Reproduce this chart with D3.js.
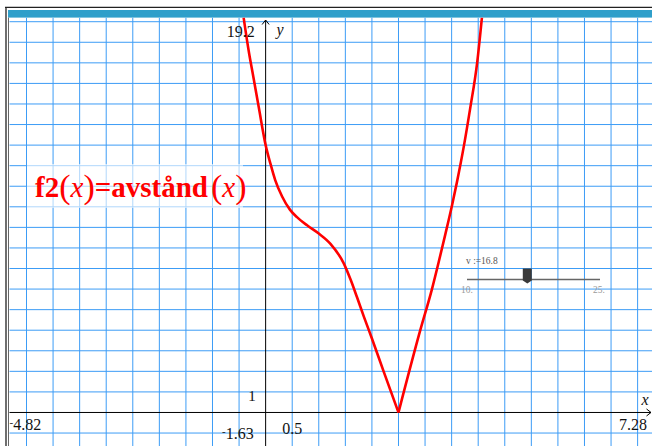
<!DOCTYPE html>
<html><head><meta charset="utf-8">
<script src="https://cdn.jsdelivr.net/npm/d3@7"></script>
<style>html,body{margin:0;padding:0;background:#fff;overflow:hidden}svg{display:block}</style>
</head><body>
<svg id="c" width="652" height="446"></svg>
<script>
// ---- data ----
const xDomain = [-4.82, 7.28];
const yDomain = [-1.63, 19.2];
const xGridStep = 0.5;
const yGridStep = 1;
// left branch of f2(x)=avstånd(x)
const leftX = [-0.414, -0.32, -0.23, -0.13, 0.0, 0.09, 0.18, 0.31, 0.46, 0.59, 0.78, 1.0, 1.22, 1.47, 1.6, 1.72, 1.85, 2.0, 2.22, 2.5];
const leftY = [19.2, 17.6, 16.3, 14.85, 13.0, 12.1, 11.3, 10.5, 9.85, 9.5, 9.1, 8.7, 8.2, 7.25, 6.45, 5.6, 4.65, 3.6, 2.0, 0.0];
// right branch
const rightX = [2.5, 2.91, 3.13, 3.26, 3.38, 3.51, 3.6, 3.73, 3.85, 3.98, 4.07];
const rightY = [0.0, 4.0, 6.0, 7.35, 8.65, 10.1, 11.2, 12.95, 14.8, 17.0, 19.2];
const sliderMin = 10, sliderMax = 25, sliderValue = 16.8;
const sliderName = "v";
const funcLabel = {name: "f2", arg: "x", rhs: "=avstånd"};

// ---- layout ----
const svg = d3.select("#c");
const L = 9.5, R = 652.5, T = 17.6, B = 446;
const x = d3.scaleLinear().domain(xDomain).range([L, R]);
const y = d3.scaleLinear().domain(yDomain).range([B, T]);

svg.append("defs").append("clipPath").attr("id", "plot")
  .append("rect").attr("x", L - 1).attr("y", T).attr("width", R - L + 2).attr("height", B - T);

// frame
svg.append("rect").attr("x", 8).attr("y", 10).attr("width", 644).attr("height", 7.6).attr("fill", "#2f9fca");
svg.append("line").attr("x1", 5).attr("x2", 652).attr("y1", 7.3).attr("y2", 7.3).attr("stroke", "#222").attr("stroke-width", 1.3);
svg.append("line").attr("x1", 6).attr("x2", 6).attr("y1", 7).attr("y2", 446).attr("stroke", "#222").attr("stroke-width", 1.3);
svg.append("line").attr("x1", 8.5).attr("x2", 8.5).attr("y1", 17.6).attr("y2", 446).attr("stroke", "#666").attr("stroke-width", 1);

const g = svg.append("g").attr("clip-path", "url(#plot)");

// grid
const xg = d3.range(Math.ceil(xDomain[0] / xGridStep), Math.floor(xDomain[1] / xGridStep) + 1).map(k => k * xGridStep).filter(v => Math.abs(v) > 1e-9);
const yg = d3.range(Math.ceil(yDomain[0] / yGridStep), Math.floor(yDomain[1] / yGridStep) + 1).map(k => k * yGridStep).filter(v => Math.abs(v) > 1e-9);
g.selectAll(".gx").data(xg).join("line")
  .attr("x1", d => x(d)).attr("x2", d => x(d)).attr("y1", T).attr("y2", B)
  .attr("stroke", "#3c9cf6").attr("stroke-width", 1);
g.selectAll(".gy").data(yg).join("line")
  .attr("y1", d => y(d)).attr("y2", d => y(d)).attr("x1", L).attr("x2", R)
  .attr("stroke", "#3c9cf6").attr("stroke-width", 1);

// axes
const x0 = x(0), y0 = y(0);
g.append("line").attr("x1", L).attr("x2", 651).attr("y1", y0).attr("y2", y0).attr("stroke", "#000").attr("stroke-width", 1);
g.append("line").attr("x1", x0).attr("x2", x0).attr("y1", 20).attr("y2", B).attr("stroke", "#000").attr("stroke-width", 1);
svg.append("path").attr("d", `M${x0-3.5},${24.5}L${x0},${20}L${x0+3.5},${24.5}`).attr("fill", "none").attr("stroke", "#000").attr("stroke-width", 1);
svg.append("path").attr("d", `M${646.5},${y0-3.5}L${651},${y0}L${646.5},${y0+3.5}`).attr("fill", "none").attr("stroke", "#000").attr("stroke-width", 1);

// label box
svg.append("rect").attr("x", 27).attr("y", 164).attr("width", 216).attr("height", 44).attr("fill", "#fff").attr("opacity", 0.6);

// curve
const line = d3.line().x(d => x(d[0])).y(d => y(d[1])).curve(d3.curveMonotoneX);
const leftPts = leftX.map((v, i) => [v, leftY[i]]);
const rightPts = rightX.map((v, i) => [v, rightY[i]]);
[leftPts, rightPts].forEach(p => {
  g.append("path").attr("d", line(p)).attr("fill", "none").attr("stroke", "#ff0000").attr("stroke-width", 2.6).attr("stroke-linejoin", "round");
});

// axis texts
const serif = "'Liberation Serif','DejaVu Serif',serif";
function txt(v, px, py, anchor, opts = {}) {
  const t = svg.append("text").attr("x", px).attr("y", py).attr("text-anchor", anchor || "start")
    .attr("font-family", serif).attr("font-size", opts.size || 15).attr("fill", opts.fill || "#111");
  if (opts.italic) t.attr("font-style", "italic");
  if (typeof v === "number" && v < 0) {
    t.append("tspan").attr("font-size", 11).attr("dy", -4).text("-");
    t.append("tspan").attr("dy", 4).text(String(Math.abs(v)));
  } else {
    t.text(String(v));
  }
  return t;
}
txt(yDomain[1], x0 - 11, 36.5, "end", {size: 16});
txt("y", 276.5, 35, "start", {italic: true, size: 16});
txt(1, x0 - 10, 401, "end", {size: 15});
txt(xDomain[0], 9.5, 430, "start", {size: 16});
txt(yDomain[0], x0 - 12, 438.5, "end", {size: 16});
txt(xGridStep, x0 + 26.5, 433.5, "middle", {size: 16});
txt(xDomain[1], 647, 430, "end", {size: 16});
txt("x", 641.5, 405, "start", {italic: true, size: 16});

// function label
const lab = svg.append("text").attr("x", 35).attr("y", 197).attr("fill", "#ff0000")
  .attr("font-family", serif).attr("font-size", 29);
lab.append("tspan").attr("font-weight", "bold").text(funcLabel.name);
lab.append("tspan").attr("font-size", 34).attr("dy", 1).text("(");
lab.append("tspan").attr("font-style", "italic").attr("dy", -1).text(funcLabel.arg);
lab.append("tspan").attr("font-size", 34).attr("dy", 1).text(")");
lab.append("tspan").attr("font-weight", "bold").attr("dy", -1).text(funcLabel.rhs);
lab.append("tspan").attr("font-size", 34).attr("dx", 3).attr("dy", 1).text("(");
lab.append("tspan").attr("font-style", "italic").attr("dy", -1).text(funcLabel.arg);
lab.append("tspan").attr("font-size", 34).attr("dy", 1).text(")");

// slider
const s = d3.scaleLinear().domain([sliderMin, sliderMax]).range([467, 600]);
svg.append("line").attr("x1", s(sliderMin)).attr("x2", s(sliderMax)).attr("y1", 279.5).attr("y2", 279.5).attr("stroke", "#666").attr("stroke-width", 1.6);
const sx = s(sliderValue);
svg.append("path").attr("d", `M${sx-4.5},268.5H${sx+4.5}V280.5L${sx},283.5L${sx-4.5},280.5Z`).attr("fill", "#3a3a3a");
svg.append("text").attr("x", 466).attr("y", 263.5).attr("font-family", serif).attr("font-size", 9.5).attr("fill", "#555")
  .text(sliderName + " :=" + sliderValue);
svg.append("text").attr("x", 461).attr("y", 293).attr("font-family", serif).attr("font-size", 9.5).attr("fill", "#999").text(sliderMin + ".");
svg.append("text").attr("x", 593).attr("y", 293).attr("font-family", serif).attr("font-size", 9.5).attr("fill", "#999").text(sliderMax + ".");
</script>
</body></html>
